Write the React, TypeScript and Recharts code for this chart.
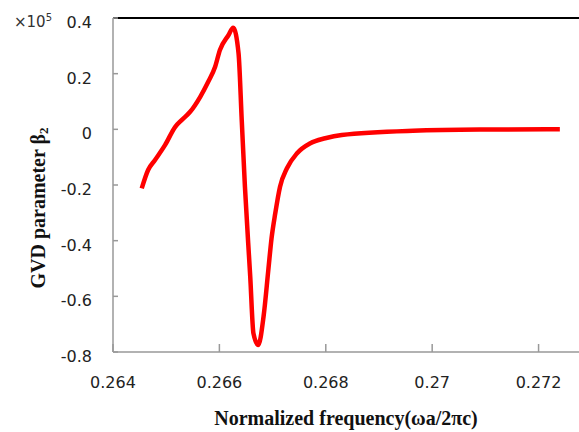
import React from "react";
import {
  LineChart,
  Line,
  XAxis,
  YAxis,
  ReferenceLine,
  Label,
} from "recharts";

// normalized frequency (ωa/2πc)
const freq = [
  0.26454, 0.26466, 0.26479, 0.26498, 0.26517, 0.26529, 0.26545, 0.26564,
  0.26579, 0.26592, 0.26601, 0.26617, 0.26626, 0.26636, 0.26642, 0.26648,
  0.26658, 0.26664, 0.26673, 0.26683, 0.26692, 0.26698, 0.26705, 0.26714,
  0.26727, 0.26746, 0.26771, 0.26799, 0.2683, 0.26964, 0.2709, 0.2724,
];
// GVD parameter β2 (×10^5)
const gvd = [
  -0.212, -0.146, -0.11, -0.056, 0.009, 0.033, 0.063, 0.117, 0.171, 0.225,
  0.285, 0.338, 0.365, 0.273, 0.033, -0.206, -0.53, -0.733, -0.775, -0.673,
  -0.505, -0.392, -0.302, -0.206, -0.14, -0.086, -0.05, -0.032, -0.02,
  -0.005, -0.001, 0,
];
const xTicks = [0.264, 0.266, 0.268, 0.27, 0.272];
const yTicks = [-0.8, -0.6, -0.4, -0.2, 0, 0.2, 0.4];

const data = freq.map((f, i) => ({ f, b: gvd[i] }));

const tickFont = { fontFamily: "DejaVu Sans", fontSize: 16, fill: "#222" };
const titleFont = {
  fontFamily: "Liberation Serif",
  fontSize: 20,
  fontWeight: "bold" as const,
  fill: "#111",
};

const XTick = ({ x, y, payload }: any) => (
  <g>
    <line x1={x} y1={y} x2={x} y2={y - 8} stroke="#999" strokeWidth={1.5} />
    <text x={x} y={y + 36} textAnchor="middle" {...tickFont}>
      {String(payload.value)}
    </text>
  </g>
);

const YTick = ({ x, y, payload }: any) => (
  <g>
    <line x1={x} y1={y} x2={x + 5} y2={y} stroke="#999" strokeWidth={1.5} />
    <text x={x - 21} y={y + 10} textAnchor="end" {...tickFont}>
      {String(payload.value)}
    </text>
  </g>
);

export default function App() {
  return (
    <div style={{ position: "absolute", left: 0, top: 0, width: 579, height: 432, background: "#fff" }}>
      <div
        style={{
          position: "absolute",
          left: 14,
          top: 12,
          fontFamily: "DejaVu Sans",
          fontSize: 15,
          color: "#333",
        }}
      >
        ×10<sup style={{ fontSize: 10 }}>5</sup>
      </div>
      <LineChart
        width={579}
        height={432}
        data={data}
        margin={{ top: 18, right: 0, left: 0, bottom: 0 }}
      >
        <XAxis
          dataKey="f"
          type="number"
          domain={[0.264, 0.27276]}
          ticks={xTicks}
          allowDataOverflow
          height={80}
          stroke="#999"
          strokeWidth={1.5}
          tickLine={false}
          tickSize={0}
          tickMargin={0}
          tick={<XTick />}
        >
          <Label
            content={({ viewBox }: any) => (
              <text
                x={346}
                y={viewBox.y + 73}
                textAnchor="middle"
                {...titleFont}
              >
                Normalized frequency(ωa/2πc)
              </text>
            )}
          />
        </XAxis>
        <YAxis
          type="number"
          domain={[-0.8, 0.4]}
          ticks={yTicks}
          width={113}
          stroke="#999"
          strokeWidth={1.5}
          tickLine={false}
          tickSize={0}
          tickMargin={0}
          tick={<YTick />}
        >
          <Label
            content={({ viewBox }: any) => {
              const cx = viewBox.x + 38;
              const cy = viewBox.y + viewBox.height / 2 + 23;
              return (
                <text
                  x={cx}
                  y={cy}
                  textAnchor="middle"
                  dominantBaseline="central"
                  transform={`rotate(-90 ${cx} ${cy})`}
                  {...titleFont}
                >
                  GVD parameter β<tspan fontSize={13} dy={5}>2</tspan>
                </text>
              );
            }}
          />
        </YAxis>
        <ReferenceLine y={0.4} stroke="#000" strokeWidth={2} />
        <Line
          type="monotone"
          dataKey="b"
          stroke="#ff0000"
          strokeWidth={4.5}
          dot={false}
          isAnimationActive={false}
        />
      </LineChart>
    </div>
  );
}
